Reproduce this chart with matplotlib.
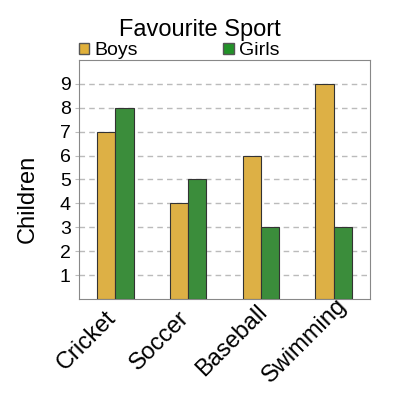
import matplotlib
matplotlib.use('Agg')
import matplotlib.pyplot as plt
import matplotlib.patches as mpatches
import matplotlib.transforms as mtransforms
import numpy as np

plt.rcParams['font.family'] = ['Liberation Sans', 'DejaVu Sans']

sports = ['Cricket', 'Soccer', 'Baseball', 'Swimming']
boys = [7, 4, 6, 9]
girls = [8, 5, 3, 3]
yticks = [1, 2, 3, 4, 5, 6, 7, 8, 9]

boy_color = '#DDB045'
girl_color = '#3B8D3B'

fig = plt.figure(figsize=(4, 4), dpi=100)
ax = fig.add_axes([0.1975, 0.2525, 0.7275, 0.5975])

x = np.arange(len(sports))
w = 0.25
ax.bar(x - w / 2, boys, w, color=boy_color, edgecolor='#333333', linewidth=0.8, zorder=3)
ax.bar(x + w / 2, girls, w, color=girl_color, edgecolor='#333333', linewidth=0.8, zorder=3)

ax.set_xlim(-0.5, 3.5)
ax.set_ylim(0, 10)
ax.set_yticks(yticks)
ax.set_yticklabels([str(t) for t in yticks], fontsize=14)
ax.yaxis.grid(True, linestyle=(0, (4, 3)), color='#BBBBBB', linewidth=1, zorder=0)
ax.tick_params(axis='y', length=3, color='#BBBBBB', pad=3)
ax.tick_params(axis='x', length=0, pad=0)
ax.set_xticks(x)
ax.set_xticklabels(sports, fontsize=17, rotation=45, ha='center', va='center',
                   rotation_mode='anchor')
# labels sit centred below and left of each category
shift = mtransforms.ScaledTranslation(-0.285, -0.42, fig.dpi_scale_trans)
for lab in ax.get_xticklabels():
    lab.set_transform(lab.get_transform() + shift)
for s in ax.spines.values():
    s.set_color('#888888')

ax.set_ylabel('Children', fontsize=17)
ax.yaxis.set_label_coords(-0.14, 0.418)

fig.text(0.5, 0.925, 'Favourite Sport', ha='center', va='center', fontsize=17)
handles = [mpatches.Patch(facecolor='#E0B03A', edgecolor='#555555', label='Boys'),
           mpatches.Patch(facecolor='#229228', edgecolor='#555555', label='Girls')]
fig.legend(handles=handles, loc='center left', bbox_to_anchor=(0.198, 0.873), ncol=2,
           frameon=False, fontsize=14, handlelength=0.52, handleheight=0.52,
           handletextpad=0.26, columnspacing=4.4, borderpad=0, borderaxespad=0)

fig.savefig('out.png', dpi=100)
